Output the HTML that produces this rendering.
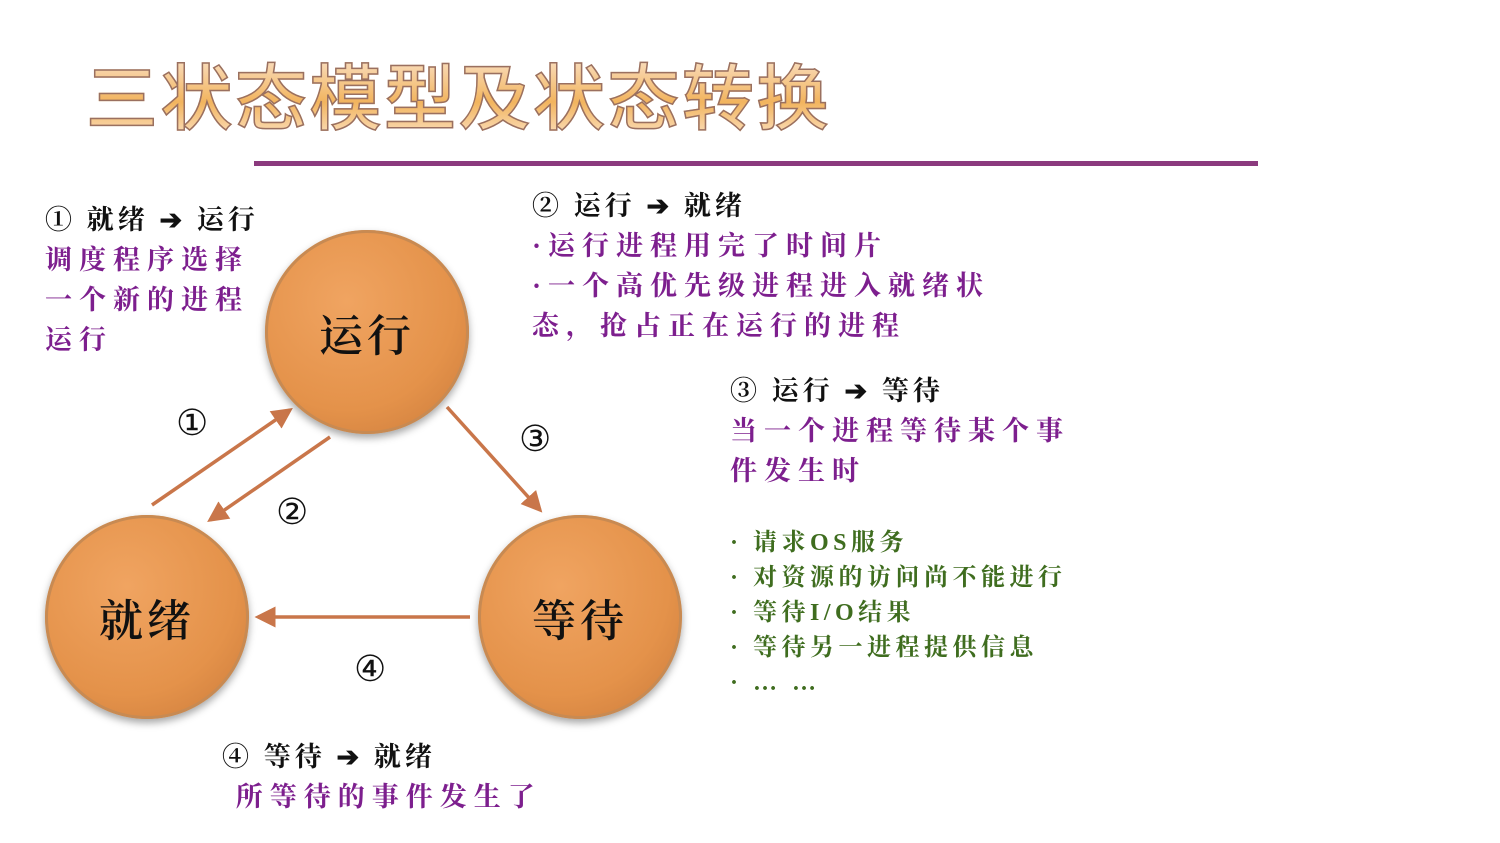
<!DOCTYPE html>
<html><head><meta charset="utf-8"><style>
body{margin:0;width:1500px;height:843px;background:#fff;position:relative;overflow:hidden;font-family:"Liberation Sans","Noto Serif CJK SC","Noto Sans CJK SC",sans-serif}
.t{position:absolute;white-space:nowrap;font-size:27px;line-height:40px;letter-spacing:7px;font-weight:bold;font-family:"Liberation Serif","Noto Serif CJK SC",serif}
.k{color:#111;letter-spacing:4px}.p{color:#7d1f8e}.g{color:#3f6d1f;font-size:24px;line-height:35px;letter-spacing:4.5px}
.title{position:absolute;left:86px;top:48px;font-size:72px;line-height:90px;letter-spacing:2.5px;font-family:"Noto Sans CJK SC",sans-serif;font-weight:500;color:#f0c48c;-webkit-text-stroke:1.5px #9a7060;background:linear-gradient(#fbe8d6,#f2b45e 60%,#fbe0c0);-webkit-background-clip:text;background-clip:text;-webkit-text-fill-color:transparent;white-space:nowrap}
.c{position:absolute;width:204px;height:204px;border-radius:50%;background:radial-gradient(circle at 40% 35%,#f0a461,#e4924a 60%,#c9793a);box-shadow:0 0 0 3px #c88a52 inset,0 4px 8px rgba(0,0,0,.35);font-size:44px;font-family:"Noto Serif CJK SC",serif;font-weight:600;color:#111;display:flex;align-items:center;justify-content:center;letter-spacing:4px}
</style></head><body>
<div class="title">三状态模型及状态转换</div>
<div style="position:absolute;left:254px;top:161px;width:1004px;height:5px;background:#8b3a7e"></div>
<svg width="1500" height="843" style="position:absolute;left:0;top:0">
<defs><marker id="a" markerWidth="6" markerHeight="6" refX="5" refY="3" orient="auto"><path d="M0,0 L6,3 L0,6z" fill="#c9764a"/></marker></defs>
<g stroke="#c9764a" stroke-width="3.5" fill="none" marker-end="url(#a)">
<line x1="152" y1="505" x2="290" y2="410"/>
<line x1="330" y1="437" x2="210" y2="520"/>
<line x1="447" y1="407" x2="540" y2="510"/>
<line x1="470" y1="617" x2="258" y2="617"/>
</g>
<g font-size="36" font-family="Liberation Serif,DejaVu Serif,serif" fill="#111">
<text x="176" y="435">①</text><text x="276" y="524">②</text><text x="519" y="451">③</text><text x="354" y="681">④</text></g>
</svg>
<div class="c" style="left:265px;top:230px">运行</div>
<div class="c" style="left:45px;top:515px">就绪</div>
<div class="c" style="left:478px;top:515px">等待</div>
<div class="t" style="left:45px;top:200px"><span class="k">① 就绪 ➔ 运行</span><br><span class="p">调度程序选择<br>一个新的进程<br>运行</span></div>
<div class="t" style="left:532px;top:186px"><span class="k">② 运行 ➔ 就绪</span><br><span class="p">·运行进程用完了时间片<br>·一个高优先级进程进入就绪状<br>态，抢占正在运行的进程</span></div>
<div class="t" style="left:730px;top:371px"><span class="k">③ 运行 ➔ 等待</span><br><span class="p">当一个进程等待某个事<br>件发生时</span></div>
<div class="t g" style="left:730px;top:526px">· 请求OS服务<br>· 对资源的访问尚不能进行<br>· 等待I/O结果<br>· 等待另一进程提供信息<br>·  … …</div>
<div class="t" style="left:222px;top:737px"><span class="k">④ 等待 ➔ 就绪</span><br><span class="p">&nbsp;所等待的事件发生了</span></div>
</body></html>
